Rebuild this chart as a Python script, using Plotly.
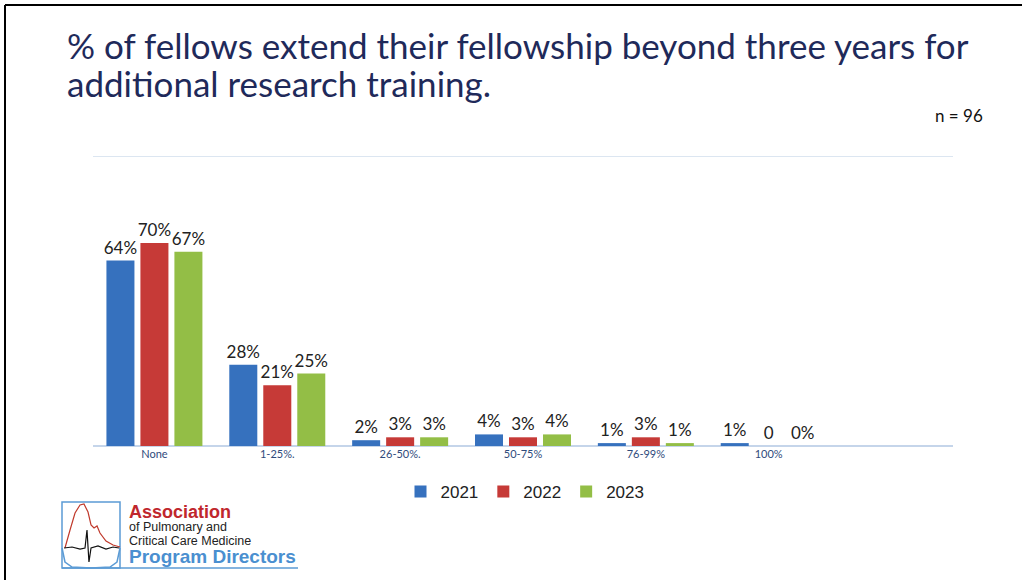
"""Fellowship extension chart (APCCMPD survey)."""

import plotly.graph_objects as go

categories = ["None", "1-25%.", "26-50%.", "50-75%", "76-99%", "100%"]
years = ["2021", "2022", "2023"]
vals_2021 = [64, 28, 2, 4, 1, 1]
vals_2022 = [70, 21, 3, 3, 3, 0]
vals_2023 = [67, 25, 3, 4, 1, 0]
labels_2021 = ["64%", "28%", "2%", "4%", "1%", "1%"]
labels_2022 = ["70%", "21%", "3%", "3%", "3%", "0"]
labels_2023 = ["67%", "25%", "3%", "4%", "1%", "0%"]

COLORS = {"2021": "#3671BE", "2022": "#C63A37", "2023": "#93BE46"}
W, H = 1022, 580
L, R, T, B = 93, 953, 155, 446


def px(x, y):
    """pixel -> paper coordinates"""
    return (x - L) / (R - L), (B - y) / (B - T)


def path(points, close=False):
    s = ""
    for i, (x, y) in enumerate(points):
        a, b = px(x, y)
        s += ("M" if i == 0 else "L") + f"{a:.4f},{b:.4f} "
    return s + ("Z" if close else "")


fig = go.Figure()
xs = list(range(len(categories)))
for yr, vals, txt in [("2021", vals_2021, labels_2021),
                      ("2022", vals_2022, labels_2022),
                      ("2023", vals_2023, labels_2023)]:
    fig.add_trace(go.Bar(
        x=xs, y=vals, name=yr,
        marker=dict(color=COLORS[yr], line=dict(width=0)),
        text=txt, textposition="outside", cliponaxis=False, constraintext="none",
        textfont=dict(family="Lato", size=17, color="#222222"),
    ))

shapes = []
# slide frame
shapes.append(dict(type="line", xref="paper", yref="paper",
                   x0=px(5, 5)[0], y0=px(5, 5)[1], x1=px(1022, 5)[0], y1=px(1022, 5)[1],
                   line=dict(color="black", width=2)))
shapes.append(dict(type="line", xref="paper", yref="paper",
                   x0=px(5, 5)[0], y0=px(5, 5)[1], x1=px(5, 580)[0], y1=px(5, 580)[1],
                   line=dict(color="black", width=2)))

# logo
x0, y0 = px(62, 502)
x1, y1 = px(120, 568)
shapes.append(dict(type="rect", xref="paper", yref="paper", x0=x0, y0=y0, x1=x1, y1=y1,
                   line=dict(color="#5b9bd5", width=1.5)))
shapes.append(dict(type="path", xref="paper", yref="paper",
                   path=path([(62, 548), (65, 562), (72, 567), (91, 568), (110, 567), (117, 562), (120, 548)]),
                   line=dict(color="#5b9bd5", width=1.5)))
shapes.append(dict(type="path", xref="paper", yref="paper",
                   path=path([(65, 548), (70, 530), (75, 513), (80, 505), (84, 504), (88, 512),
                              (91, 525), (94, 528), (97, 526), (100, 533), (106, 541), (113, 545), (120, 547)]),
                   line=dict(color="#c0392b", width=1.2)))
shapes.append(dict(type="path", xref="paper", yref="paper",
                   path=path([(64, 548), (72, 547), (80, 549), (85, 548), (87, 530), (89, 562),
                              (91, 548), (98, 546), (106, 549), (113, 547), (119, 548)]),
                   line=dict(color="#111111", width=1.2)))
shapes.append(dict(type="line", xref="paper", yref="paper",
                   x0=px(62, 568)[0], y0=px(62, 568)[1], x1=px(298, 568)[0], y1=px(298, 568)[1],
                   line=dict(color="#5b9bd5", width=1.5)))

annotations = []
title_lines = ["% of fellows extend their fellowship beyond three years for",
               "additional research training."]
for i, line in enumerate(title_lines):
    ax, ay = px(65, 45 + 38 * i)
    annotations.append(dict(text=line, x=ax, y=ay, xref="paper", yref="paper",
                            xanchor="left", yanchor="middle", showarrow=False,
                            font=dict(family="Lato", size=35, color="#1F2A5A")))
ax, ay = px(985, 115)
annotations.append(dict(text="n = 96", x=ax, y=ay, xref="paper", yref="paper",
                        xanchor="right", yanchor="middle", showarrow=False,
                        font=dict(family="Lato", size=17, color="#111111")))
logo_text = [
    ("Association", 512, 18, "#c0272d", True),
    ("of Pulmonary and", 527, 12.5, "#222222", False),
    ("Critical Care Medicine", 541, 12.5, "#222222", False),
    ("Program Directors", 556, 19, "#4a8fd0", True),
]
for txt, yy, sz, col, bold in logo_text:
    ax, ay = px(127, yy)
    annotations.append(dict(text=f"<b>{txt}</b>" if bold else txt, x=ax, y=ay,
                            xref="paper", yref="paper", xanchor="left", yanchor="middle",
                            showarrow=False, font=dict(family="Arial", size=sz, color=col)))

lx, ly = px(525, 492)
fig.update_layout(
    width=W, height=H,
    margin=dict(l=L, r=W - R, t=T, b=H - B, pad=0),
    paper_bgcolor="white", plot_bgcolor="white",
    barmode="group", bargap=0.17, bargroupgap=0.176,
    showlegend=True,
    legend=dict(orientation="h", x=lx, y=ly, xanchor="center", yanchor="middle",
                font=dict(family="Arial", size=17, color="#222222"),
                itemwidth=30, traceorder="normal"),
    xaxis=dict(range=[-0.5, 6.5], tickvals=xs, ticktext=categories, showgrid=False,
               showline=False, zeroline=False, ticks="",
               tickfont=dict(family="Lato", size=11, color="#2F4B7C")),
    yaxis=dict(range=[0, 100.4], dtick=100, showticklabels=False, showgrid=True,
               gridcolor="#DCE6F1", gridwidth=1, zeroline=True, zerolinecolor="#C5D5EA",
               zerolinewidth=1.5, showline=False),
    shapes=shapes, annotations=annotations,
    font=dict(family="Lato"),
)

fig.write_html("out.html", config={"displayModeBar": False},
               post_script="document.body.style.margin='0';")
